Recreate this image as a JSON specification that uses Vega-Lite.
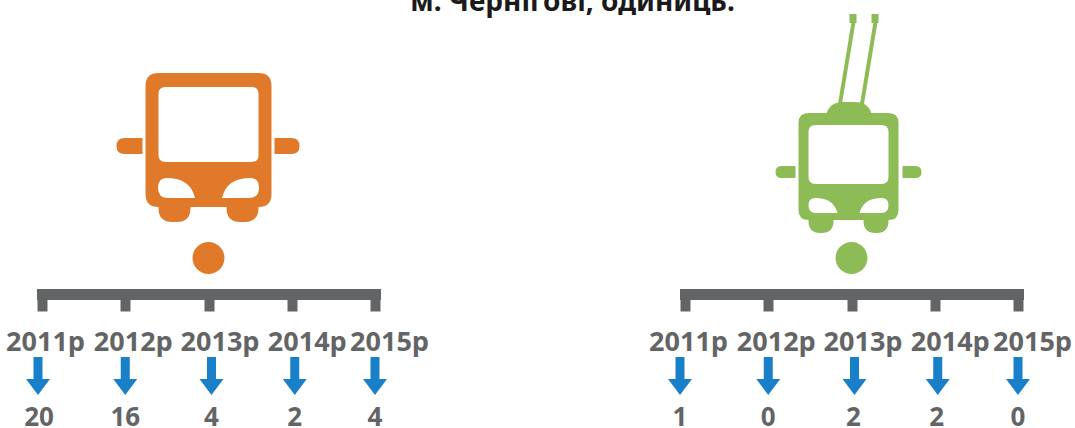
{
"$schema":"https://vega.github.io/schema/vega-lite/v6.json",
"background":"white",
"padding":{"left":5,"top":-11,"right":0,"bottom":0},
"title":{"text":"м. Чернігові, одиниць.","anchor":"middle","dx":34,"dy":17,"font":"Noto Sans","fontSize":28,"fontWeight":"bold","color":"#1a1a1a","offset":0},
"datasets":{"rows":[
{"vehicle":"автобус","year":"2011р","value":20},
{"vehicle":"автобус","year":"2012р","value":16},
{"vehicle":"автобус","year":"2013р","value":4},
{"vehicle":"автобус","year":"2014р","value":2},
{"vehicle":"автобус","year":"2015р","value":4},
{"vehicle":"тролейбус","year":"2011р","value":1},
{"vehicle":"тролейбус","year":"2012р","value":0},
{"vehicle":"тролейбус","year":"2013р","value":2},
{"vehicle":"тролейбус","year":"2014р","value":2},
{"vehicle":"тролейбус","year":"2015р","value":0}
]},
"config":{"view":{"stroke":null},
"axisX":{"title":null,"domainWidth":11,"domainColor":"#636466","domainCap":"square","tickColor":"#636466","tickWidth":10,"tickSize":17,"labelFont":"Noto Sans","labelFontSize":27,"labelFontWeight":"bold","labelColor":"#636466","labelBaseline":"alphabetic","labelAngle":0,"labelOverlap":false,"labelBound":false,"labelFlush":false,"labelPadding":39,"grid":false,
"labelOffset":{"condition":[{"test":"datum.value=='2011р'","value":3},{"test":"datum.value=='2012р'","value":7.5},{"test":"datum.value=='2013р'","value":11},{"test":"datum.value=='2014р'","value":15}],"value":14}}},
"bounds":"flush",
"spacing":310,
"hconcat":[
{"width":333,"height":294,
"data":{"name":"rows"},
"transform":[{"filter":"datum.vehicle=='автобус'"}],
"encoding":{"x":{"field":"year","type":"ordinal","scale":{"type":"point","padding":0,"domain":["2011р","2012р","2013р","2014р","2015р"]}}},
"layer":[
{"mark":{"type":"point","shape":"M-4.5,-19H4.5V3H12L0,19L-12,3H-4.5Z","filled":true,"size":4,"opacity":1,"color":"#1a7fc9","xOffset":{"expr":"datum.year=='2011р'?-4:datum.year=='2013р'||datum.year=='2014р'?3:0"}},
"encoding":{"y":{"datum":376,"type":"quantitative","axis":null,"scale":{"domain":[0,294],"reverse":true,"nice":false,"zero":false}}}},
{"mark":{"type":"text","font":"Noto Sans","fontSize":26,"fontWeight":"bold","color":"#636466","baseline":"alphabetic","xOffset":{"expr":"datum.year=='2011р'?-3:datum.year=='2013р'||datum.year=='2014р'?3:0"}},
"encoding":{"y":{"datum":426,"type":"quantitative"},"text":{"field":"value","type":"quantitative"}}},
{"data":{"values":[{"part":"корпус"}]},"transform":[],
"mark":{"type":"point","shape":"M-50,-67H50Q63,-67,63,-54V54Q63,67,50,67H-50Q-63,67,-63,54V-54Q-63,-67,-50,-67ZM-43,-53Q-50,-53,-50,-46V15Q-50,22,-43,22H43Q50,22,50,15V-46Q50,-53,43,-53ZM-42,38Q-50.5,38,-50.5,48Q-50.5,58,-40,58H-13.5Q-18,38,-42,38ZM42,38Q18,38,13.5,58H40Q50.5,58,50.5,48Q50.5,38,42,38ZM-66,-2V14H-84Q-92,14,-92,6Q-92,-2,-84,-2ZM66,-2H83Q91,-2,91,6Q91,14,83,14H66ZM-50,60H-18V68Q-18,82,-32,82H-36Q-50,82,-50,68ZM18,60H50V68Q50,82,36,82H32Q18,82,18,68Z","filled":true,"size":4,"opacity":1,"color":"#e07a2a"},
"encoding":{"x":{"datum":"2013р","type":"ordinal"},"y":{"datum":140,"type":"quantitative"}}},
{"data":{"values":[{"part":"коло"}]},"transform":[],
"mark":{"type":"point","shape":"circle","filled":true,"size":1018,"opacity":1,"color":"#e07a2a"},
"encoding":{"x":{"datum":"2013р","type":"ordinal"},"y":{"datum":258,"type":"quantitative"}}}
]},
{"width":333,"height":294,
"data":{"name":"rows"},
"transform":[{"filter":"datum.vehicle=='тролейбус'"}],
"encoding":{"x":{"field":"year","type":"ordinal","scale":{"type":"point","padding":0,"domain":["2011р","2012р","2013р","2014р","2015р"]}}},
"layer":[
{"mark":{"type":"point","shape":"M-4.5,-19H4.5V3H12L0,19L-12,3H-4.5Z","filled":true,"size":4,"opacity":1,"color":"#1a7fc9","xOffset":{"expr":"datum.year=='2011р'?-5:datum.year=='2013р'||datum.year=='2014р'?3:0"}},
"encoding":{"y":{"datum":376,"type":"quantitative","axis":null,"scale":{"domain":[0,294],"reverse":true,"nice":false,"zero":false}}}},
{"mark":{"type":"text","font":"Noto Sans","fontSize":26,"fontWeight":"bold","color":"#636466","baseline":"alphabetic","xOffset":{"expr":"datum.year=='2011р'?-5:datum.year=='2013р'||datum.year=='2014р'?2:0"}},
"encoding":{"y":{"datum":426,"type":"quantitative"},"text":{"field":"value","type":"quantitative"}}},
{"data":{"values":[{"part":"корпус"}]},"transform":[],
"mark":{"type":"point","shape":"M-43,-54H37Q47,-54,47,-44V43Q47,53,37,53H-43Q-53,53,-53,43V-44Q-53,-54,-43,-54ZM-36,-42Q-43,-42,-43,-35V10Q-43,17,-36,17H30Q37,17,37,10V-35Q37,-42,30,-42ZM-36,31Q-43,31,-43,38Q-43,46,-36,46H-14Q-18,31,-36,31ZM30,31Q12,31,8,46H30Q37,46,37,38Q37,31,30,31ZM-56,-1V11H-70Q-76,11,-76,5Q-76,-1,-70,-1ZM51,-1H64Q70,-1,70,5Q70,11,64,11H51ZM-43,48H-18V54Q-18,66,-30,66H-31Q-43,66,-43,54ZM12,48H37V54Q37,66,25,66H24Q12,66,12,54ZM-26,-45Q-26,-65,-8,-65H3Q21,-65,21,-45ZM-14,-60L0,-145L4,-145L-10,-60ZM8,-60L22,-145L26,-145L12,-60ZM-2,-153H5V-144H-2ZM20,-153H27V-144H20Z","filled":true,"size":4,"opacity":1,"color":"#8dbb55"},
"encoding":{"x":{"datum":"2013р","type":"ordinal"},"y":{"datum":167,"type":"quantitative"}}},
{"data":{"values":[{"part":"коло"}]},"transform":[],
"mark":{"type":"point","shape":"circle","filled":true,"size":1018,"opacity":1,"color":"#8dbb55"},
"encoding":{"x":{"datum":"2013р","type":"ordinal"},"y":{"datum":258,"type":"quantitative"}}}
]}
]
}
